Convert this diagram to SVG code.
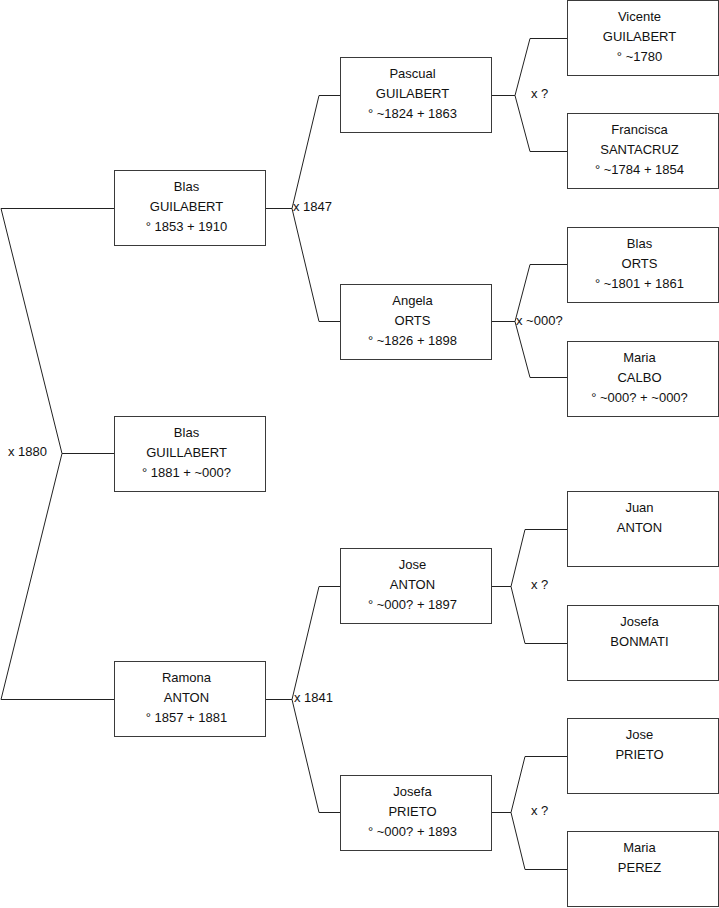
<svg xmlns="http://www.w3.org/2000/svg" width="719" height="908" viewBox="0 0 719 908">
<style>
.box{fill:#fff;stroke:#3a3a3a;stroke-width:1}
.ln{fill:none;stroke:#222;stroke-width:1}
text{font-family:"Liberation Sans",Arial,sans-serif;font-size:13px;fill:#111}
.c{text-anchor:middle}
</style>
<rect width="719" height="908" fill="#fff"/>
<g id="connectors">
<polyline class="ln" points="114,208.5 1,208.5 62,453.5 1,699.5 114,699.5"/>
<line class="ln" x1="62" y1="453.5" x2="114" y2="453.5"/>
<polyline class="ln" points="341,95.5 319,95.5 292,208.5 319,321.5 341,321.5"/>
<line class="ln" x1="265" y1="208.5" x2="292" y2="208.5"/>
<polyline class="ln" points="341,586.5 319,586.5 292,699.5 319,812.5 341,812.5"/>
<line class="ln" x1="265" y1="699.5" x2="292" y2="699.5"/>
<polyline class="ln" points="567,38.5 530,38.5 515,95.5 530,151.5 567,151.5"/>
<line class="ln" x1="491" y1="95.5" x2="515" y2="95.5"/>
<polyline class="ln" points="567,264.5 530,264.5 515,321.5 530,377.5 567,377.5"/>
<line class="ln" x1="491" y1="321.5" x2="515" y2="321.5"/>
<polyline class="ln" points="567,529.5 525,529.5 511,586.5 525,643.5 567,643.5"/>
<line class="ln" x1="491" y1="586.5" x2="511" y2="586.5"/>
<polyline class="ln" points="567,756.5 525,756.5 511,812.5 525,869.5 567,869.5"/>
<line class="ln" x1="491" y1="812.5" x2="511" y2="812.5"/>
<text x="8" y="456">x 1880</text>
<text x="293" y="211">x 1847</text>
<text x="294" y="702">x 1841</text>
<text x="531" y="98">x ?</text>
<text x="516" y="325">x ~000?</text>
<text x="531" y="589">x ?</text>
<text x="531" y="815">x ?</text>
</g>
<g id="n-blas-guilabert-1853">
<rect class="box" x="114.5" y="170.5" width="151" height="75"/>
<text class="c" x="186.5" y="191">Blas</text><text class="c" x="186.5" y="211">GUILABERT</text><text class="c" x="186.5" y="231">° 1853 + 1910</text>
</g>
<g id="n-blas-guillabert-1881">
<rect class="box" x="114.5" y="416.5" width="151" height="75"/>
<text class="c" x="186.5" y="437">Blas</text><text class="c" x="186.5" y="457">GUILLABERT</text><text class="c" x="186.5" y="477">° 1881 + ~000?</text>
</g>
<g id="n-ramona-anton">
<rect class="box" x="114.5" y="661.5" width="151" height="75"/>
<text class="c" x="186.5" y="682">Ramona</text><text class="c" x="186.5" y="702">ANTON</text><text class="c" x="186.5" y="722">° 1857 + 1881</text>
</g>
<g id="n-pascual-guilabert">
<rect class="box" x="340.5" y="57.5" width="151" height="75"/>
<text class="c" x="412.5" y="78">Pascual</text><text class="c" x="412.5" y="98">GUILABERT</text><text class="c" x="412.5" y="118">° ~1824 + 1863</text>
</g>
<g id="n-angela-orts">
<rect class="box" x="340.5" y="284.5" width="151" height="75"/>
<text class="c" x="412.5" y="305">Angela</text><text class="c" x="412.5" y="325">ORTS</text><text class="c" x="412.5" y="345">° ~1826 + 1898</text>
</g>
<g id="n-jose-anton">
<rect class="box" x="340.5" y="548.5" width="151" height="75"/>
<text class="c" x="412.5" y="569">Jose</text><text class="c" x="412.5" y="589">ANTON</text><text class="c" x="412.5" y="609">° ~000? + 1897</text>
</g>
<g id="n-josefa-prieto">
<rect class="box" x="340.5" y="775.5" width="151" height="75"/>
<text class="c" x="412.5" y="796">Josefa</text><text class="c" x="412.5" y="816">PRIETO</text><text class="c" x="412.5" y="836">° ~000? + 1893</text>
</g>
<g id="n-vicente-guilabert">
<rect class="box" x="567.5" y="0.5" width="151" height="75"/>
<text class="c" x="639.5" y="21">Vicente</text><text class="c" x="639.5" y="41">GUILABERT</text><text class="c" x="639.5" y="61">° ~1780</text>
</g>
<g id="n-francisca-santacruz">
<rect class="box" x="567.5" y="113.5" width="151" height="75"/>
<text class="c" x="639.5" y="134">Francisca</text><text class="c" x="639.5" y="154">SANTACRUZ</text><text class="c" x="639.5" y="174">° ~1784 + 1854</text>
</g>
<g id="n-blas-orts">
<rect class="box" x="567.5" y="227.5" width="151" height="75"/>
<text class="c" x="639.5" y="248">Blas</text><text class="c" x="639.5" y="268">ORTS</text><text class="c" x="639.5" y="288">° ~1801 + 1861</text>
</g>
<g id="n-maria-calbo">
<rect class="box" x="567.5" y="341.5" width="151" height="75"/>
<text class="c" x="639.5" y="362">Maria</text><text class="c" x="639.5" y="382">CALBO</text><text class="c" x="639.5" y="402">° ~000? + ~000?</text>
</g>
<g id="n-juan-anton">
<rect class="box" x="567.5" y="491.5" width="151" height="75"/>
<text class="c" x="639.5" y="512">Juan</text><text class="c" x="639.5" y="532">ANTON</text>
</g>
<g id="n-josefa-bonmati">
<rect class="box" x="567.5" y="605.5" width="151" height="75"/>
<text class="c" x="639.5" y="626">Josefa</text><text class="c" x="639.5" y="646">BONMATI</text>
</g>
<g id="n-jose-prieto">
<rect class="box" x="567.5" y="718.5" width="151" height="75"/>
<text class="c" x="639.5" y="739">Jose</text><text class="c" x="639.5" y="759">PRIETO</text>
</g>
<g id="n-maria-perez">
<rect class="box" x="567.5" y="831.5" width="151" height="75"/>
<text class="c" x="639.5" y="852">Maria</text><text class="c" x="639.5" y="872">PEREZ</text>
</g>
</svg>
